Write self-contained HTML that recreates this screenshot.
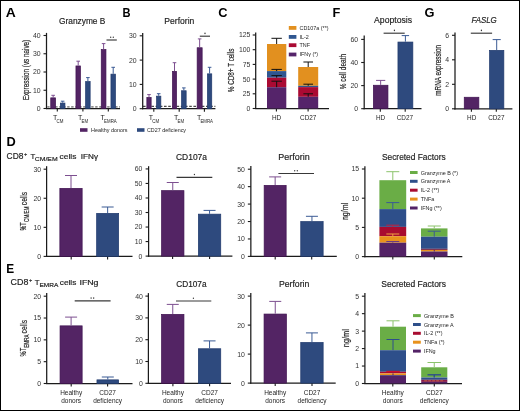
<!DOCTYPE html>
<html><head><meta charset="utf-8"><style>
html,body{margin:0;padding:0;background:#fff;}
svg{display:block;will-change:transform;}
text{font-family:"Liberation Sans", sans-serif;} .s{stroke:#1e1e1e;stroke-width:0.18px;}
</style></head><body>
<svg width="520" height="411" viewBox="0 0 520 411" font-family='"Liberation Sans", sans-serif' fill="#1e1e1e">
<rect x="0.5" y="0.5" width="519" height="410" fill="#fff" stroke="#000" stroke-width="1"/>
<text x="5.80" y="16.80" font-size="12.8" font-weight="bold" fill="#000" textLength="10.04" lengthAdjust="spacingAndGlyphs">A</text>
<text x="122.40" y="16.80" font-size="12.8" font-weight="bold" fill="#000" textLength="8.04" lengthAdjust="spacingAndGlyphs">B</text>
<text x="218.30" y="16.80" font-size="12.8" font-weight="bold" fill="#000">C</text>
<text x="332.50" y="16.80" font-size="12.8" font-weight="bold" fill="#000">F</text>
<text x="424.60" y="16.80" font-size="12.8" font-weight="bold" fill="#000">G</text>
<text x="6.40" y="145.60" font-size="12.8" font-weight="bold" fill="#000">D</text>
<text x="6.20" y="272.90" font-size="12.8" font-weight="bold" fill="#000" textLength="7.90" lengthAdjust="spacingAndGlyphs">E</text>
<text x="82.20" y="23.70" font-size="9.0" text-anchor="middle" textLength="46.30" lengthAdjust="spacingAndGlyphs" class="s">Granzyme B</text>
<line x1="46.50" y1="32.90" x2="46.50" y2="109.10" stroke="#1b1b1b" stroke-width="1.25"/>
<line x1="43.50" y1="108.50" x2="46.50" y2="108.50" stroke="#1b1b1b" stroke-width="1.1"/>
<text x="40.60" y="110.95" font-size="6.9" text-anchor="end" fill="#333">0</text>
<line x1="43.50" y1="90.25" x2="46.50" y2="90.25" stroke="#1b1b1b" stroke-width="1.1"/>
<text x="40.60" y="92.70" font-size="6.9" text-anchor="end" fill="#333">10</text>
<line x1="43.50" y1="72.00" x2="46.50" y2="72.00" stroke="#1b1b1b" stroke-width="1.1"/>
<text x="40.60" y="74.45" font-size="6.9" text-anchor="end" fill="#333">20</text>
<line x1="43.50" y1="53.75" x2="46.50" y2="53.75" stroke="#1b1b1b" stroke-width="1.1"/>
<text x="40.60" y="56.20" font-size="6.9" text-anchor="end" fill="#333">30</text>
<line x1="43.50" y1="35.50" x2="46.50" y2="35.50" stroke="#1b1b1b" stroke-width="1.1"/>
<text x="40.60" y="37.95" font-size="6.9" text-anchor="end" fill="#333">40</text>
<text x="28.80" y="70.05" font-size="9.0" text-anchor="middle" textLength="60.50" lengthAdjust="spacingAndGlyphs" transform="rotate(-90 28.80 70.05)" class="s">Expression (vs naive)</text>
<line x1="47.20" y1="106.90" x2="120.00" y2="106.90" stroke="#8e8e8e" stroke-width="1.9" stroke-dasharray="2.4,1.6"/>
<line x1="45.90" y1="108.50" x2="120.00" y2="108.50" stroke="#1b1b1b" stroke-width="1.25"/>
<line x1="57.30" y1="108.50" x2="57.30" y2="111.50" stroke="#1b1b1b" stroke-width="1.1"/>
<line x1="82.90" y1="108.50" x2="82.90" y2="111.50" stroke="#1b1b1b" stroke-width="1.1"/>
<line x1="108.30" y1="108.50" x2="108.30" y2="111.50" stroke="#1b1b1b" stroke-width="1.1"/>
<rect x="50.75" y="97.85" width="4.80" height="10.65" fill="#532464" stroke="#3f1250" stroke-width="0.7"/>
<line x1="53.15" y1="95.30" x2="53.15" y2="97.50" stroke="#7d4f90" stroke-width="1"/>
<line x1="51.35" y1="95.30" x2="54.95" y2="95.30" stroke="#7d4f90" stroke-width="1"/>
<rect x="60.35" y="103.05" width="4.60" height="5.45" fill="#2e4a7e" stroke="#1e386c" stroke-width="0.7"/>
<line x1="62.65" y1="101.20" x2="62.65" y2="102.70" stroke="#3b5b94" stroke-width="1"/>
<line x1="60.85" y1="101.20" x2="64.45" y2="101.20" stroke="#3b5b94" stroke-width="1"/>
<rect x="75.95" y="65.95" width="4.50" height="42.55" fill="#532464" stroke="#3f1250" stroke-width="0.7"/>
<line x1="78.20" y1="61.20" x2="78.20" y2="65.60" stroke="#7d4f90" stroke-width="1"/>
<line x1="76.40" y1="61.20" x2="80.00" y2="61.20" stroke="#7d4f90" stroke-width="1"/>
<rect x="85.65" y="81.55" width="4.50" height="26.95" fill="#2e4a7e" stroke="#1e386c" stroke-width="0.7"/>
<line x1="87.90" y1="77.60" x2="87.90" y2="81.20" stroke="#3b5b94" stroke-width="1"/>
<line x1="86.10" y1="77.60" x2="89.70" y2="77.60" stroke="#3b5b94" stroke-width="1"/>
<rect x="101.25" y="49.55" width="4.70" height="58.95" fill="#532464" stroke="#3f1250" stroke-width="0.7"/>
<line x1="103.60" y1="43.60" x2="103.60" y2="49.20" stroke="#7d4f90" stroke-width="1"/>
<line x1="101.80" y1="43.60" x2="105.40" y2="43.60" stroke="#7d4f90" stroke-width="1"/>
<rect x="110.95" y="74.15" width="4.50" height="34.35" fill="#2e4a7e" stroke="#1e386c" stroke-width="0.7"/>
<line x1="113.20" y1="67.30" x2="113.20" y2="73.80" stroke="#3b5b94" stroke-width="1"/>
<line x1="111.40" y1="67.30" x2="115.00" y2="67.30" stroke="#3b5b94" stroke-width="1"/>
<line x1="106.50" y1="40.00" x2="116.80" y2="40.00" stroke="#383838" stroke-width="1.15"/>
<ellipse cx="110.70" cy="37.20" rx="0.65" ry="0.8" fill="#333"/>
<ellipse cx="113.30" cy="37.20" rx="0.65" ry="0.8" fill="#333"/>
<text x="53.10" y="120.20" font-size="7.0">T</text>
<text x="56.60" y="122.50" font-size="5.0" textLength="6.90" lengthAdjust="spacingAndGlyphs">CM</text>
<text x="78.00" y="120.20" font-size="7.0">T</text>
<text x="81.50" y="122.50" font-size="5.0" textLength="6.60" lengthAdjust="spacingAndGlyphs">EM</text>
<text x="100.60" y="120.20" font-size="7.0">T</text>
<text x="104.10" y="122.50" font-size="5.0" textLength="12.60" lengthAdjust="spacingAndGlyphs">EMRA</text>
<rect x="80.00" y="128.20" width="7.50" height="3.60" fill="#532464"/>
<text x="91.00" y="131.90" font-size="5.4" textLength="36.50" lengthAdjust="spacingAndGlyphs">Healthy donors</text>
<rect x="137.00" y="128.20" width="7.50" height="3.60" fill="#2e4a7e"/>
<text x="147.00" y="131.90" font-size="5.4" textLength="39.00" lengthAdjust="spacingAndGlyphs">CD27 deficiency</text>
<text x="179.30" y="23.50" font-size="9.0" text-anchor="middle" textLength="30.00" lengthAdjust="spacingAndGlyphs" class="s">Perforin</text>
<line x1="142.70" y1="33.00" x2="142.70" y2="109.30" stroke="#1b1b1b" stroke-width="1.25"/>
<line x1="139.70" y1="108.70" x2="142.70" y2="108.70" stroke="#1b1b1b" stroke-width="1.1"/>
<text x="136.60" y="111.15" font-size="6.9" text-anchor="end" fill="#333">0</text>
<line x1="139.70" y1="84.40" x2="142.70" y2="84.40" stroke="#1b1b1b" stroke-width="1.1"/>
<text x="136.60" y="86.85" font-size="6.9" text-anchor="end" fill="#333">10</text>
<line x1="139.70" y1="60.10" x2="142.70" y2="60.10" stroke="#1b1b1b" stroke-width="1.1"/>
<text x="136.60" y="62.55" font-size="6.9" text-anchor="end" fill="#333">20</text>
<line x1="139.70" y1="35.80" x2="142.70" y2="35.80" stroke="#1b1b1b" stroke-width="1.1"/>
<text x="136.60" y="38.25" font-size="6.9" text-anchor="end" fill="#333">30</text>
<line x1="143.00" y1="106.30" x2="215.40" y2="106.30" stroke="#1b1b1b" stroke-width="1" stroke-dasharray="2.6,1.6"/>
<line x1="142.10" y1="108.70" x2="215.40" y2="108.70" stroke="#1b1b1b" stroke-width="1.25"/>
<line x1="153.80" y1="108.70" x2="153.80" y2="111.70" stroke="#1b1b1b" stroke-width="1.1"/>
<line x1="179.20" y1="108.70" x2="179.20" y2="111.70" stroke="#1b1b1b" stroke-width="1.1"/>
<line x1="204.40" y1="108.70" x2="204.40" y2="111.70" stroke="#1b1b1b" stroke-width="1.1"/>
<rect x="146.85" y="97.45" width="4.30" height="11.25" fill="#532464" stroke="#3f1250" stroke-width="0.7"/>
<line x1="149.00" y1="94.60" x2="149.00" y2="97.10" stroke="#7d4f90" stroke-width="1"/>
<line x1="147.20" y1="94.60" x2="150.80" y2="94.60" stroke="#7d4f90" stroke-width="1"/>
<rect x="156.55" y="96.15" width="4.30" height="12.55" fill="#2e4a7e" stroke="#1e386c" stroke-width="0.7"/>
<line x1="158.70" y1="93.70" x2="158.70" y2="95.80" stroke="#3b5b94" stroke-width="1"/>
<line x1="156.90" y1="93.70" x2="160.50" y2="93.70" stroke="#3b5b94" stroke-width="1"/>
<rect x="172.45" y="71.35" width="4.10" height="37.35" fill="#532464" stroke="#3f1250" stroke-width="0.7"/>
<line x1="174.50" y1="62.70" x2="174.50" y2="71.00" stroke="#7d4f90" stroke-width="1"/>
<line x1="172.70" y1="62.70" x2="176.30" y2="62.70" stroke="#7d4f90" stroke-width="1"/>
<rect x="181.55" y="90.75" width="4.60" height="17.95" fill="#2e4a7e" stroke="#1e386c" stroke-width="0.7"/>
<line x1="183.85" y1="87.90" x2="183.85" y2="90.40" stroke="#3b5b94" stroke-width="1"/>
<line x1="182.05" y1="87.90" x2="185.65" y2="87.90" stroke="#3b5b94" stroke-width="1"/>
<rect x="197.15" y="47.75" width="5.00" height="60.95" fill="#532464" stroke="#3f1250" stroke-width="0.7"/>
<line x1="199.65" y1="38.90" x2="199.65" y2="47.40" stroke="#7d4f90" stroke-width="1"/>
<line x1="197.85" y1="38.90" x2="201.45" y2="38.90" stroke="#7d4f90" stroke-width="1"/>
<rect x="207.45" y="73.85" width="4.30" height="34.85" fill="#2e4a7e" stroke="#1e386c" stroke-width="0.7"/>
<line x1="209.60" y1="67.30" x2="209.60" y2="73.50" stroke="#3b5b94" stroke-width="1"/>
<line x1="207.80" y1="67.30" x2="211.40" y2="67.30" stroke="#3b5b94" stroke-width="1"/>
<line x1="199.80" y1="36.20" x2="210.00" y2="36.20" stroke="#383838" stroke-width="1.15"/>
<ellipse cx="205.00" cy="33.40" rx="0.65" ry="0.8" fill="#333"/>
<text x="148.70" y="120.30" font-size="7.0">T</text>
<text x="152.20" y="122.60" font-size="5.0" textLength="6.90" lengthAdjust="spacingAndGlyphs">CM</text>
<text x="174.00" y="120.30" font-size="7.0">T</text>
<text x="177.50" y="122.60" font-size="5.0" textLength="6.60" lengthAdjust="spacingAndGlyphs">EM</text>
<text x="196.90" y="120.30" font-size="7.0">T</text>
<text x="200.40" y="122.60" font-size="5.0" textLength="12.60" lengthAdjust="spacingAndGlyphs">EMRA</text>
<line x1="255.70" y1="32.40" x2="255.70" y2="109.10" stroke="#1b1b1b" stroke-width="1.25"/>
<line x1="252.70" y1="108.50" x2="255.70" y2="108.50" stroke="#1b1b1b" stroke-width="1.1"/>
<text x="250.40" y="110.95" font-size="6.9" text-anchor="end" fill="#333">0</text>
<line x1="252.70" y1="93.80" x2="255.70" y2="93.80" stroke="#1b1b1b" stroke-width="1.1"/>
<text x="250.40" y="96.25" font-size="6.9" text-anchor="end" fill="#333">25</text>
<line x1="252.70" y1="79.10" x2="255.70" y2="79.10" stroke="#1b1b1b" stroke-width="1.1"/>
<text x="250.40" y="81.55" font-size="6.9" text-anchor="end" fill="#333">50</text>
<line x1="252.70" y1="64.40" x2="255.70" y2="64.40" stroke="#1b1b1b" stroke-width="1.1"/>
<text x="250.40" y="66.85" font-size="6.9" text-anchor="end" fill="#333">75</text>
<line x1="252.70" y1="49.70" x2="255.70" y2="49.70" stroke="#1b1b1b" stroke-width="1.1"/>
<text x="250.40" y="52.15" font-size="6.9" text-anchor="end" fill="#333">100</text>
<line x1="252.70" y1="35.00" x2="255.70" y2="35.00" stroke="#1b1b1b" stroke-width="1.1"/>
<text x="250.40" y="37.45" font-size="6.9" text-anchor="end" fill="#333">125</text>
<text x="234.30" y="70.45" font-size="9.0" text-anchor="middle" textLength="43.60" lengthAdjust="spacingAndGlyphs" transform="rotate(-90 234.30 70.45)" class="s">% CD8+ T cells</text>
<line x1="255.10" y1="108.50" x2="329.00" y2="108.50" stroke="#1b1b1b" stroke-width="1.25"/>
<line x1="276.40" y1="108.50" x2="276.40" y2="111.50" stroke="#1b1b1b" stroke-width="1.1"/>
<line x1="308.10" y1="108.50" x2="308.10" y2="111.50" stroke="#1b1b1b" stroke-width="1.1"/>
<rect x="267.00" y="44.00" width="19.30" height="27.10" fill="#e2901f"/>
<rect x="267.00" y="71.10" width="19.30" height="6.60" fill="#2f5690"/>
<rect x="267.00" y="77.70" width="19.30" height="9.50" fill="#aa0a33"/>
<rect x="267.00" y="87.20" width="19.30" height="21.30" fill="#55246a"/>
<line x1="276.65" y1="38.30" x2="276.65" y2="44.00" stroke="#111" stroke-width="1"/>
<line x1="271.45" y1="38.30" x2="281.85" y2="38.30" stroke="#111" stroke-width="1"/>
<line x1="276.65" y1="69.40" x2="276.65" y2="71.10" stroke="#111" stroke-width="1"/>
<line x1="271.45" y1="69.40" x2="281.85" y2="69.40" stroke="#111" stroke-width="1"/>
<line x1="276.65" y1="75.60" x2="276.65" y2="77.70" stroke="#111" stroke-width="1"/>
<line x1="271.45" y1="75.60" x2="281.85" y2="75.60" stroke="#111" stroke-width="1"/>
<line x1="276.65" y1="81.20" x2="276.65" y2="87.20" stroke="#111" stroke-width="1"/>
<line x1="271.45" y1="81.20" x2="281.85" y2="81.20" stroke="#111" stroke-width="1"/>
<rect x="298.20" y="67.00" width="20.00" height="18.80" fill="#e2901f"/>
<rect x="298.20" y="85.80" width="20.00" height="1.30" fill="#2f5690"/>
<rect x="298.20" y="87.10" width="20.00" height="9.70" fill="#aa0a33"/>
<rect x="298.20" y="96.80" width="20.00" height="11.70" fill="#55246a"/>
<line x1="308.20" y1="62.00" x2="308.20" y2="67.00" stroke="#111" stroke-width="1"/>
<line x1="303.40" y1="62.00" x2="313.00" y2="62.00" stroke="#111" stroke-width="1"/>
<line x1="308.20" y1="84.20" x2="308.20" y2="85.80" stroke="#111" stroke-width="1"/>
<line x1="303.40" y1="84.20" x2="313.00" y2="84.20" stroke="#111" stroke-width="1"/>
<line x1="308.20" y1="93.80" x2="308.20" y2="96.80" stroke="#111" stroke-width="1"/>
<line x1="303.40" y1="93.80" x2="313.00" y2="93.80" stroke="#111" stroke-width="1"/>
<rect x="288.80" y="26.00" width="7.60" height="3.80" fill="#e2901f"/>
<text x="299.50" y="29.80" font-size="5.4">CD107a (**)</text>
<rect x="288.80" y="35.00" width="7.60" height="3.80" fill="#2f5690"/>
<text x="299.50" y="38.80" font-size="5.4">IL-2</text>
<rect x="288.80" y="43.30" width="7.60" height="3.80" fill="#aa0a33"/>
<text x="299.50" y="47.10" font-size="5.4">TNF</text>
<rect x="288.80" y="52.60" width="7.60" height="3.80" fill="#55246a"/>
<text x="299.50" y="56.40" font-size="5.4">IFN&#947; (*)</text>
<text x="276.60" y="120.10" font-size="6.4" text-anchor="middle">HD</text>
<text x="308.20" y="120.10" font-size="6.4" text-anchor="middle">CD27</text>
<text x="393.10" y="23.20" font-size="9.0" text-anchor="middle" textLength="38.00" lengthAdjust="spacingAndGlyphs" class="s">Apoptosis</text>
<line x1="364.20" y1="35.50" x2="364.20" y2="109.30" stroke="#1b1b1b" stroke-width="1.25"/>
<line x1="361.20" y1="108.70" x2="364.20" y2="108.70" stroke="#1b1b1b" stroke-width="1.1"/>
<text x="358.20" y="111.15" font-size="6.9" text-anchor="end" fill="#333">0</text>
<line x1="361.20" y1="85.60" x2="364.20" y2="85.60" stroke="#1b1b1b" stroke-width="1.1"/>
<text x="358.20" y="88.05" font-size="6.9" text-anchor="end" fill="#333">20</text>
<line x1="361.20" y1="62.50" x2="364.20" y2="62.50" stroke="#1b1b1b" stroke-width="1.1"/>
<text x="358.20" y="64.95" font-size="6.9" text-anchor="end" fill="#333">40</text>
<line x1="361.20" y1="39.40" x2="364.20" y2="39.40" stroke="#1b1b1b" stroke-width="1.1"/>
<text x="358.20" y="41.85" font-size="6.9" text-anchor="end" fill="#333">60</text>
<text x="346.00" y="71.65" font-size="9.0" text-anchor="middle" textLength="35.40" lengthAdjust="spacingAndGlyphs" transform="rotate(-90 346.00 71.65)" class="s">% cell death</text>
<line x1="363.60" y1="108.70" x2="421.50" y2="108.70" stroke="#1b1b1b" stroke-width="1.25"/>
<line x1="380.30" y1="108.70" x2="380.30" y2="111.70" stroke="#1b1b1b" stroke-width="1.1"/>
<line x1="405.20" y1="108.70" x2="405.20" y2="111.70" stroke="#1b1b1b" stroke-width="1.1"/>
<rect x="373.35" y="85.25" width="14.60" height="23.45" fill="#532464" stroke="#3f1250" stroke-width="0.7"/>
<line x1="380.65" y1="80.40" x2="380.65" y2="84.90" stroke="#7d4f90" stroke-width="1"/>
<line x1="376.05" y1="80.40" x2="385.25" y2="80.40" stroke="#7d4f90" stroke-width="1"/>
<rect x="397.95" y="42.05" width="14.90" height="66.65" fill="#2e4a7e" stroke="#1e386c" stroke-width="0.7"/>
<line x1="405.40" y1="35.60" x2="405.40" y2="41.70" stroke="#3b5b94" stroke-width="1"/>
<line x1="401.70" y1="35.60" x2="409.10" y2="35.60" stroke="#3b5b94" stroke-width="1"/>
<line x1="383.60" y1="33.20" x2="404.70" y2="33.20" stroke="#383838" stroke-width="1.15"/>
<ellipse cx="394.40" cy="30.40" rx="0.65" ry="0.8" fill="#333"/>
<text x="380.60" y="120.30" font-size="6.4" text-anchor="middle">HD</text>
<text x="404.90" y="120.30" font-size="6.4" text-anchor="middle">CD27</text>
<text x="484.10" y="23.20" font-size="9.0" text-anchor="middle" font-style="italic" textLength="25.40" lengthAdjust="spacingAndGlyphs" class="s">FASLG</text>
<line x1="455.00" y1="32.40" x2="455.00" y2="109.40" stroke="#1b1b1b" stroke-width="1.25"/>
<line x1="452.00" y1="108.80" x2="455.00" y2="108.80" stroke="#1b1b1b" stroke-width="1.1"/>
<text x="449.00" y="111.25" font-size="6.9" text-anchor="end" fill="#333">0</text>
<line x1="452.00" y1="84.30" x2="455.00" y2="84.30" stroke="#1b1b1b" stroke-width="1.1"/>
<text x="449.00" y="86.75" font-size="6.9" text-anchor="end" fill="#333">2</text>
<line x1="452.00" y1="59.80" x2="455.00" y2="59.80" stroke="#1b1b1b" stroke-width="1.1"/>
<text x="449.00" y="62.25" font-size="6.9" text-anchor="end" fill="#333">4</text>
<line x1="452.00" y1="35.30" x2="455.00" y2="35.30" stroke="#1b1b1b" stroke-width="1.1"/>
<text x="449.00" y="37.75" font-size="6.9" text-anchor="end" fill="#333">6</text>
<text x="440.80" y="70.30" font-size="8.6" text-anchor="middle" textLength="50.80" lengthAdjust="spacingAndGlyphs" transform="rotate(-90 440.80 70.30)" class="s">mRNA expression</text>
<line x1="454.40" y1="108.80" x2="512.40" y2="108.80" stroke="#1b1b1b" stroke-width="1.25"/>
<line x1="471.40" y1="108.80" x2="471.40" y2="111.80" stroke="#1b1b1b" stroke-width="1.1"/>
<line x1="496.30" y1="108.80" x2="496.30" y2="111.80" stroke="#1b1b1b" stroke-width="1.1"/>
<rect x="464.25" y="97.25" width="14.60" height="11.55" fill="#532464" stroke="#3f1250" stroke-width="0.7"/>
<rect x="489.55" y="50.35" width="14.30" height="58.45" fill="#2e4a7e" stroke="#1e386c" stroke-width="0.7"/>
<line x1="496.70" y1="39.60" x2="496.70" y2="50.00" stroke="#3b5b94" stroke-width="1"/>
<line x1="492.65" y1="39.60" x2="500.75" y2="39.60" stroke="#3b5b94" stroke-width="1"/>
<line x1="470.80" y1="33.20" x2="492.10" y2="33.20" stroke="#383838" stroke-width="1.15"/>
<ellipse cx="481.40" cy="30.40" rx="0.65" ry="0.8" fill="#333"/>
<text x="471.70" y="120.30" font-size="6.4" text-anchor="middle">HD</text>
<text x="496.30" y="120.30" font-size="6.4" text-anchor="middle">CD27</text>
<text x="6.60" y="158.90" font-size="8.2" textLength="16.80" lengthAdjust="spacingAndGlyphs" class="s">CD8</text>
<text x="23.90" y="155.60" font-size="5.6" class="s">+</text>
<text x="30.60" y="158.90" font-size="7.8" class="s">T</text>
<text x="34.80" y="160.80" font-size="6.0" textLength="22.80" lengthAdjust="spacingAndGlyphs" class="s">CM/EM</text>
<text x="59.60" y="158.90" font-size="7.4" textLength="16.80" lengthAdjust="spacingAndGlyphs" class="s">cells</text>
<text x="80.80" y="158.90" font-size="6.8" textLength="17.20" lengthAdjust="spacingAndGlyphs" class="s">IFN&#947;</text>
<line x1="46.60" y1="166.20" x2="46.60" y2="257.00" stroke="#1b1b1b" stroke-width="1.25"/>
<line x1="43.60" y1="256.40" x2="46.60" y2="256.40" stroke="#1b1b1b" stroke-width="1.1"/>
<text x="41.10" y="258.85" font-size="6.9" text-anchor="end" fill="#333">0</text>
<line x1="43.60" y1="227.33" x2="46.60" y2="227.33" stroke="#1b1b1b" stroke-width="1.1"/>
<text x="41.10" y="229.78" font-size="6.9" text-anchor="end" fill="#333">10</text>
<line x1="43.60" y1="198.26" x2="46.60" y2="198.26" stroke="#1b1b1b" stroke-width="1.1"/>
<text x="41.10" y="200.71" font-size="6.9" text-anchor="end" fill="#333">20</text>
<line x1="43.60" y1="169.19" x2="46.60" y2="169.19" stroke="#1b1b1b" stroke-width="1.1"/>
<text x="41.10" y="171.64" font-size="6.9" text-anchor="end" fill="#333">30</text>
<text class="s" transform="translate(26.30 230.40) rotate(-90)" font-size="8.6" textLength="8.00" lengthAdjust="spacingAndGlyphs">%T</text>
<text class="s" transform="translate(28.70 221.90) rotate(-90)" font-size="6.3" textLength="15.40" lengthAdjust="spacingAndGlyphs">CM/EM</text>
<text class="s" transform="translate(27.00 205.20) rotate(-90)" font-size="8.6" textLength="13.40" lengthAdjust="spacingAndGlyphs">cells</text>
<line x1="46.00" y1="256.40" x2="132.50" y2="256.40" stroke="#1b1b1b" stroke-width="1.25"/>
<line x1="71.20" y1="256.40" x2="71.20" y2="259.40" stroke="#1b1b1b" stroke-width="1.1"/>
<line x1="107.60" y1="256.40" x2="107.60" y2="259.40" stroke="#1b1b1b" stroke-width="1.1"/>
<rect x="59.85" y="188.35" width="22.30" height="68.05" fill="#532464" stroke="#3f1250" stroke-width="0.7"/>
<line x1="71.00" y1="175.50" x2="71.00" y2="188.00" stroke="#7d4f90" stroke-width="1"/>
<line x1="65.00" y1="175.50" x2="77.00" y2="175.50" stroke="#7d4f90" stroke-width="1"/>
<rect x="96.65" y="213.35" width="22.00" height="43.05" fill="#2e4a7e" stroke="#1e386c" stroke-width="0.7"/>
<line x1="107.65" y1="207.00" x2="107.65" y2="213.00" stroke="#3b5b94" stroke-width="1"/>
<line x1="101.65" y1="207.00" x2="113.65" y2="207.00" stroke="#3b5b94" stroke-width="1"/>
<text x="191.50" y="160.40" font-size="9.0" text-anchor="middle" textLength="31.00" lengthAdjust="spacingAndGlyphs" class="s">CD107a</text>
<line x1="148.60" y1="166.20" x2="148.60" y2="256.70" stroke="#1b1b1b" stroke-width="1.25"/>
<line x1="145.60" y1="256.10" x2="148.60" y2="256.10" stroke="#1b1b1b" stroke-width="1.1"/>
<text x="142.40" y="258.55" font-size="6.9" text-anchor="end" fill="#333">0</text>
<line x1="145.60" y1="241.57" x2="148.60" y2="241.57" stroke="#1b1b1b" stroke-width="1.1"/>
<text x="142.40" y="244.02" font-size="6.9" text-anchor="end" fill="#333">10</text>
<line x1="145.60" y1="227.04" x2="148.60" y2="227.04" stroke="#1b1b1b" stroke-width="1.1"/>
<text x="142.40" y="229.49" font-size="6.9" text-anchor="end" fill="#333">20</text>
<line x1="145.60" y1="212.51" x2="148.60" y2="212.51" stroke="#1b1b1b" stroke-width="1.1"/>
<text x="142.40" y="214.96" font-size="6.9" text-anchor="end" fill="#333">30</text>
<line x1="145.60" y1="197.98" x2="148.60" y2="197.98" stroke="#1b1b1b" stroke-width="1.1"/>
<text x="142.40" y="200.43" font-size="6.9" text-anchor="end" fill="#333">40</text>
<line x1="145.60" y1="183.45" x2="148.60" y2="183.45" stroke="#1b1b1b" stroke-width="1.1"/>
<text x="142.40" y="185.90" font-size="6.9" text-anchor="end" fill="#333">50</text>
<line x1="145.60" y1="168.92" x2="148.60" y2="168.92" stroke="#1b1b1b" stroke-width="1.1"/>
<text x="142.40" y="171.37" font-size="6.9" text-anchor="end" fill="#333">60</text>
<line x1="147.90" y1="256.10" x2="232.40" y2="256.10" stroke="#1b1b1b" stroke-width="1.25"/>
<line x1="172.60" y1="256.10" x2="172.60" y2="259.10" stroke="#1b1b1b" stroke-width="1.1"/>
<line x1="209.60" y1="256.10" x2="209.60" y2="259.10" stroke="#1b1b1b" stroke-width="1.1"/>
<rect x="161.55" y="190.65" width="22.40" height="65.45" fill="#532464" stroke="#3f1250" stroke-width="0.7"/>
<line x1="172.75" y1="182.50" x2="172.75" y2="190.30" stroke="#7d4f90" stroke-width="1"/>
<line x1="166.75" y1="182.50" x2="178.75" y2="182.50" stroke="#7d4f90" stroke-width="1"/>
<rect x="198.35" y="214.15" width="22.40" height="41.95" fill="#2e4a7e" stroke="#1e386c" stroke-width="0.7"/>
<line x1="209.55" y1="210.40" x2="209.55" y2="213.80" stroke="#3b5b94" stroke-width="1"/>
<line x1="203.55" y1="210.40" x2="215.55" y2="210.40" stroke="#3b5b94" stroke-width="1"/>
<line x1="176.50" y1="177.30" x2="212.30" y2="177.30" stroke="#383838" stroke-width="1.15"/>
<ellipse cx="194.40" cy="174.50" rx="0.65" ry="0.8" fill="#333"/>
<text x="294.00" y="160.40" font-size="9.0" text-anchor="middle" textLength="31.30" lengthAdjust="spacingAndGlyphs" class="s">Perforin</text>
<line x1="250.85" y1="166.00" x2="250.85" y2="257.00" stroke="#1b1b1b" stroke-width="1.25"/>
<line x1="247.85" y1="256.40" x2="250.85" y2="256.40" stroke="#1b1b1b" stroke-width="1.1"/>
<text x="244.90" y="258.85" font-size="6.9" text-anchor="end" fill="#333">0</text>
<line x1="247.85" y1="238.96" x2="250.85" y2="238.96" stroke="#1b1b1b" stroke-width="1.1"/>
<text x="244.90" y="241.41" font-size="6.9" text-anchor="end" fill="#333">10</text>
<line x1="247.85" y1="221.52" x2="250.85" y2="221.52" stroke="#1b1b1b" stroke-width="1.1"/>
<text x="244.90" y="223.97" font-size="6.9" text-anchor="end" fill="#333">20</text>
<line x1="247.85" y1="204.08" x2="250.85" y2="204.08" stroke="#1b1b1b" stroke-width="1.1"/>
<text x="244.90" y="206.53" font-size="6.9" text-anchor="end" fill="#333">30</text>
<line x1="247.85" y1="186.64" x2="250.85" y2="186.64" stroke="#1b1b1b" stroke-width="1.1"/>
<text x="244.90" y="189.09" font-size="6.9" text-anchor="end" fill="#333">40</text>
<line x1="247.85" y1="169.20" x2="250.85" y2="169.20" stroke="#1b1b1b" stroke-width="1.1"/>
<text x="244.90" y="171.65" font-size="6.9" text-anchor="end" fill="#333">50</text>
<line x1="250.25" y1="256.40" x2="336.80" y2="256.40" stroke="#1b1b1b" stroke-width="1.25"/>
<line x1="275.20" y1="256.40" x2="275.20" y2="259.40" stroke="#1b1b1b" stroke-width="1.1"/>
<line x1="311.70" y1="256.40" x2="311.70" y2="259.40" stroke="#1b1b1b" stroke-width="1.1"/>
<rect x="264.15" y="185.35" width="22.00" height="71.05" fill="#532464" stroke="#3f1250" stroke-width="0.7"/>
<line x1="275.15" y1="176.90" x2="275.15" y2="185.00" stroke="#7d4f90" stroke-width="1"/>
<line x1="269.15" y1="176.90" x2="281.15" y2="176.90" stroke="#7d4f90" stroke-width="1"/>
<rect x="300.75" y="221.55" width="22.40" height="34.85" fill="#2e4a7e" stroke="#1e386c" stroke-width="0.7"/>
<line x1="311.95" y1="216.30" x2="311.95" y2="221.20" stroke="#3b5b94" stroke-width="1"/>
<line x1="305.95" y1="216.30" x2="317.95" y2="216.30" stroke="#3b5b94" stroke-width="1"/>
<line x1="278.40" y1="173.50" x2="314.00" y2="173.50" stroke="#383838" stroke-width="1.15"/>
<ellipse cx="294.70" cy="170.70" rx="0.65" ry="0.8" fill="#333"/>
<ellipse cx="297.30" cy="170.70" rx="0.65" ry="0.8" fill="#333"/>
<text x="413.80" y="160.40" font-size="9.0" text-anchor="middle" textLength="63.70" lengthAdjust="spacingAndGlyphs" class="s">Secreted Factors</text>
<line x1="364.90" y1="166.20" x2="364.90" y2="257.20" stroke="#1b1b1b" stroke-width="1.25"/>
<line x1="361.90" y1="256.60" x2="364.90" y2="256.60" stroke="#1b1b1b" stroke-width="1.1"/>
<text x="359.20" y="259.05" font-size="6.9" text-anchor="end" fill="#333">0</text>
<line x1="361.90" y1="227.40" x2="364.90" y2="227.40" stroke="#1b1b1b" stroke-width="1.1"/>
<text x="359.20" y="229.85" font-size="6.9" text-anchor="end" fill="#333">5</text>
<line x1="361.90" y1="198.20" x2="364.90" y2="198.20" stroke="#1b1b1b" stroke-width="1.1"/>
<text x="359.20" y="200.65" font-size="6.9" text-anchor="end" fill="#333">10</text>
<line x1="361.90" y1="169.00" x2="364.90" y2="169.00" stroke="#1b1b1b" stroke-width="1.1"/>
<text x="359.20" y="171.45" font-size="6.9" text-anchor="end" fill="#333">15</text>
<text x="347.90" y="211.40" font-size="8.4" text-anchor="middle" textLength="17.40" lengthAdjust="spacingAndGlyphs" transform="rotate(-90 347.90 211.40)" class="s">ng/ml</text>
<line x1="364.30" y1="256.60" x2="462.30" y2="256.60" stroke="#1b1b1b" stroke-width="1.25"/>
<line x1="392.80" y1="256.60" x2="392.80" y2="259.60" stroke="#1b1b1b" stroke-width="1.1"/>
<line x1="434.30" y1="256.60" x2="434.30" y2="259.60" stroke="#1b1b1b" stroke-width="1.1"/>
<rect x="379.40" y="180.20" width="26.80" height="28.90" fill="#6aad46"/>
<rect x="379.40" y="209.10" width="26.80" height="17.80" fill="#2e4f8a"/>
<rect x="379.40" y="226.90" width="26.80" height="9.30" fill="#a80c30"/>
<rect x="379.40" y="236.20" width="26.80" height="6.50" fill="#e8921c"/>
<rect x="379.40" y="242.70" width="26.80" height="13.90" fill="#532266"/>
<line x1="392.80" y1="171.70" x2="392.80" y2="180.20" stroke="#8cc36c" stroke-width="1"/>
<line x1="386.30" y1="171.70" x2="399.30" y2="171.70" stroke="#8cc36c" stroke-width="1"/>
<line x1="392.80" y1="202.60" x2="392.80" y2="209.10" stroke="#3b5b94" stroke-width="1"/>
<line x1="386.30" y1="202.60" x2="399.30" y2="202.60" stroke="#3b5b94" stroke-width="1"/>
<line x1="392.80" y1="225.20" x2="392.80" y2="226.90" stroke="#c0223f" stroke-width="1"/>
<line x1="386.30" y1="225.20" x2="399.30" y2="225.20" stroke="#c0223f" stroke-width="1"/>
<line x1="392.80" y1="234.00" x2="392.80" y2="236.20" stroke="#f0a040" stroke-width="1"/>
<line x1="386.30" y1="234.00" x2="399.30" y2="234.00" stroke="#f0a040" stroke-width="1"/>
<line x1="392.80" y1="241.50" x2="392.80" y2="242.70" stroke="#6a3a80" stroke-width="1"/>
<line x1="386.30" y1="241.50" x2="399.30" y2="241.50" stroke="#6a3a80" stroke-width="1"/>
<rect x="421.00" y="228.40" width="26.50" height="8.30" fill="#6aad46"/>
<rect x="421.00" y="236.70" width="26.50" height="12.10" fill="#2e4f8a"/>
<rect x="421.00" y="248.80" width="26.50" height="1.10" fill="#6a1648"/>
<rect x="421.00" y="249.90" width="26.50" height="1.60" fill="#e8921c"/>
<rect x="421.00" y="251.50" width="26.50" height="5.10" fill="#532266"/>
<line x1="434.25" y1="249.90" x2="434.25" y2="251.50" stroke="#532266" stroke-width="1.0"/>
<line x1="434.25" y1="226.00" x2="434.25" y2="228.40" stroke="#8cc36c" stroke-width="1"/>
<line x1="427.75" y1="226.00" x2="440.75" y2="226.00" stroke="#8cc36c" stroke-width="1"/>
<line x1="434.25" y1="231.20" x2="434.25" y2="236.70" stroke="#3b5b94" stroke-width="1"/>
<line x1="427.75" y1="231.20" x2="440.75" y2="231.20" stroke="#3b5b94" stroke-width="1"/>
<rect x="410.00" y="171.00" width="7.60" height="3.00" fill="#6aad46"/>
<text x="420.80" y="174.50" font-size="5.4">Granzyme B (*)</text>
<rect x="410.00" y="179.80" width="7.60" height="3.00" fill="#2e4f8a"/>
<text x="420.80" y="183.30" font-size="5.4">Granzyme A</text>
<rect x="410.00" y="188.70" width="7.60" height="3.00" fill="#a80c30"/>
<text x="420.80" y="192.20" font-size="5.4">IL-2 (**)</text>
<rect x="410.00" y="197.60" width="7.60" height="3.00" fill="#e8921c"/>
<text x="420.80" y="201.10" font-size="5.4">TNFa</text>
<rect x="410.00" y="206.50" width="7.60" height="3.00" fill="#532266"/>
<text x="420.80" y="210.00" font-size="5.4">IFNg (**)</text>
<text x="10.60" y="285.40" font-size="8.2" textLength="17.80" lengthAdjust="spacingAndGlyphs" class="s">CD8</text>
<text x="28.90" y="282.10" font-size="5.6" class="s">+</text>
<text x="34.70" y="285.40" font-size="7.8" class="s">T</text>
<text x="39.50" y="287.30" font-size="6.0" textLength="18.90" lengthAdjust="spacingAndGlyphs" class="s">EMRA</text>
<text x="59.80" y="285.40" font-size="7.4" textLength="16.50" lengthAdjust="spacingAndGlyphs" class="s">cells</text>
<text x="79.50" y="285.40" font-size="6.8" textLength="19.00" lengthAdjust="spacingAndGlyphs" class="s">IFNg</text>
<line x1="46.70" y1="293.10" x2="46.70" y2="384.10" stroke="#1b1b1b" stroke-width="1.25"/>
<line x1="43.70" y1="383.50" x2="46.70" y2="383.50" stroke="#1b1b1b" stroke-width="1.1"/>
<text x="41.10" y="385.95" font-size="6.9" text-anchor="end" fill="#333">0</text>
<line x1="43.70" y1="361.68" x2="46.70" y2="361.68" stroke="#1b1b1b" stroke-width="1.1"/>
<text x="41.10" y="364.12" font-size="6.9" text-anchor="end" fill="#333">5</text>
<line x1="43.70" y1="339.85" x2="46.70" y2="339.85" stroke="#1b1b1b" stroke-width="1.1"/>
<text x="41.10" y="342.30" font-size="6.9" text-anchor="end" fill="#333">10</text>
<line x1="43.70" y1="318.02" x2="46.70" y2="318.02" stroke="#1b1b1b" stroke-width="1.1"/>
<text x="41.10" y="320.47" font-size="6.9" text-anchor="end" fill="#333">15</text>
<line x1="43.70" y1="296.20" x2="46.70" y2="296.20" stroke="#1b1b1b" stroke-width="1.1"/>
<text x="41.10" y="298.65" font-size="6.9" text-anchor="end" fill="#333">20</text>
<text class="s" transform="translate(26.30 356.40) rotate(-90)" font-size="8.6" textLength="8.60" lengthAdjust="spacingAndGlyphs">%T</text>
<text class="s" transform="translate(28.70 347.60) rotate(-90)" font-size="6.3" textLength="13.00" lengthAdjust="spacingAndGlyphs">EMRA</text>
<text class="s" transform="translate(27.00 333.40) rotate(-90)" font-size="8.6" textLength="13.40" lengthAdjust="spacingAndGlyphs">cells</text>
<line x1="46.10" y1="383.50" x2="132.50" y2="383.50" stroke="#1b1b1b" stroke-width="1.25"/>
<line x1="71.20" y1="383.50" x2="71.20" y2="386.50" stroke="#1b1b1b" stroke-width="1.1"/>
<line x1="107.60" y1="383.50" x2="107.60" y2="386.50" stroke="#1b1b1b" stroke-width="1.1"/>
<rect x="60.05" y="325.85" width="22.10" height="57.65" fill="#532464" stroke="#3f1250" stroke-width="0.7"/>
<line x1="71.10" y1="317.10" x2="71.10" y2="325.50" stroke="#7d4f90" stroke-width="1"/>
<line x1="65.10" y1="317.10" x2="77.10" y2="317.10" stroke="#7d4f90" stroke-width="1"/>
<rect x="96.95" y="379.85" width="21.70" height="3.65" fill="#2e4a7e" stroke="#1e386c" stroke-width="0.7"/>
<line x1="107.80" y1="377.00" x2="107.80" y2="379.50" stroke="#3b5b94" stroke-width="1"/>
<line x1="101.80" y1="377.00" x2="113.80" y2="377.00" stroke="#3b5b94" stroke-width="1"/>
<line x1="74.70" y1="300.90" x2="110.60" y2="300.90" stroke="#383838" stroke-width="1.15"/>
<ellipse cx="91.10" cy="298.10" rx="0.65" ry="0.8" fill="#333"/>
<ellipse cx="93.70" cy="298.10" rx="0.65" ry="0.8" fill="#333"/>
<text x="71.20" y="395.10" font-size="6.5" text-anchor="middle">Healthy</text>
<text x="71.20" y="402.50" font-size="6.5" text-anchor="middle">donors</text>
<text x="107.60" y="395.10" font-size="6.5" text-anchor="middle">CD27</text>
<text x="107.60" y="402.50" font-size="6.5" text-anchor="middle">deficiency</text>
<text x="191.40" y="287.20" font-size="9.0" text-anchor="middle" textLength="30.40" lengthAdjust="spacingAndGlyphs" class="s">CD107a</text>
<line x1="148.40" y1="293.10" x2="148.40" y2="383.90" stroke="#1b1b1b" stroke-width="1.25"/>
<line x1="145.40" y1="383.30" x2="148.40" y2="383.30" stroke="#1b1b1b" stroke-width="1.1"/>
<text x="142.80" y="385.75" font-size="6.9" text-anchor="end" fill="#333">0</text>
<line x1="145.40" y1="361.50" x2="148.40" y2="361.50" stroke="#1b1b1b" stroke-width="1.1"/>
<text x="142.80" y="363.95" font-size="6.9" text-anchor="end" fill="#333">10</text>
<line x1="145.40" y1="339.70" x2="148.40" y2="339.70" stroke="#1b1b1b" stroke-width="1.1"/>
<text x="142.80" y="342.15" font-size="6.9" text-anchor="end" fill="#333">20</text>
<line x1="145.40" y1="317.90" x2="148.40" y2="317.90" stroke="#1b1b1b" stroke-width="1.1"/>
<text x="142.80" y="320.35" font-size="6.9" text-anchor="end" fill="#333">30</text>
<line x1="145.40" y1="296.10" x2="148.40" y2="296.10" stroke="#1b1b1b" stroke-width="1.1"/>
<text x="142.80" y="298.55" font-size="6.9" text-anchor="end" fill="#333">40</text>
<line x1="147.80" y1="383.30" x2="231.00" y2="383.30" stroke="#1b1b1b" stroke-width="1.25"/>
<line x1="172.90" y1="383.30" x2="172.90" y2="386.30" stroke="#1b1b1b" stroke-width="1.1"/>
<line x1="209.60" y1="383.30" x2="209.60" y2="386.30" stroke="#1b1b1b" stroke-width="1.1"/>
<rect x="161.55" y="314.35" width="22.40" height="68.95" fill="#532464" stroke="#3f1250" stroke-width="0.7"/>
<line x1="172.75" y1="304.40" x2="172.75" y2="314.00" stroke="#7d4f90" stroke-width="1"/>
<line x1="166.75" y1="304.40" x2="178.75" y2="304.40" stroke="#7d4f90" stroke-width="1"/>
<rect x="198.35" y="348.75" width="22.40" height="34.55" fill="#2e4a7e" stroke="#1e386c" stroke-width="0.7"/>
<line x1="209.55" y1="340.90" x2="209.55" y2="348.40" stroke="#3b5b94" stroke-width="1"/>
<line x1="203.55" y1="340.90" x2="215.55" y2="340.90" stroke="#3b5b94" stroke-width="1"/>
<line x1="176.00" y1="301.00" x2="211.30" y2="301.00" stroke="#383838" stroke-width="1.15"/>
<ellipse cx="193.40" cy="298.20" rx="0.65" ry="0.8" fill="#333"/>
<text x="172.90" y="395.10" font-size="6.5" text-anchor="middle">Healthy</text>
<text x="172.90" y="402.50" font-size="6.5" text-anchor="middle">donors</text>
<text x="209.60" y="395.10" font-size="6.5" text-anchor="middle">CD27</text>
<text x="209.60" y="402.50" font-size="6.5" text-anchor="middle">deficiency</text>
<text x="294.10" y="287.20" font-size="9.0" text-anchor="middle" textLength="30.40" lengthAdjust="spacingAndGlyphs" class="s">Perforin</text>
<line x1="250.80" y1="293.10" x2="250.80" y2="383.70" stroke="#1b1b1b" stroke-width="1.25"/>
<line x1="247.80" y1="383.10" x2="250.80" y2="383.10" stroke="#1b1b1b" stroke-width="1.1"/>
<text x="244.80" y="385.55" font-size="6.9" text-anchor="end" fill="#333">0</text>
<line x1="247.80" y1="354.10" x2="250.80" y2="354.10" stroke="#1b1b1b" stroke-width="1.1"/>
<text x="244.80" y="356.55" font-size="6.9" text-anchor="end" fill="#333">10</text>
<line x1="247.80" y1="325.10" x2="250.80" y2="325.10" stroke="#1b1b1b" stroke-width="1.1"/>
<text x="244.80" y="327.55" font-size="6.9" text-anchor="end" fill="#333">20</text>
<line x1="247.80" y1="296.10" x2="250.80" y2="296.10" stroke="#1b1b1b" stroke-width="1.1"/>
<text x="244.80" y="298.55" font-size="6.9" text-anchor="end" fill="#333">30</text>
<line x1="250.20" y1="383.10" x2="335.70" y2="383.10" stroke="#1b1b1b" stroke-width="1.25"/>
<line x1="275.20" y1="383.10" x2="275.20" y2="386.10" stroke="#1b1b1b" stroke-width="1.1"/>
<line x1="312.00" y1="383.10" x2="312.00" y2="386.10" stroke="#1b1b1b" stroke-width="1.1"/>
<rect x="264.05" y="314.05" width="22.40" height="69.05" fill="#532464" stroke="#3f1250" stroke-width="0.7"/>
<line x1="275.25" y1="301.40" x2="275.25" y2="313.70" stroke="#7d4f90" stroke-width="1"/>
<line x1="269.25" y1="301.40" x2="281.25" y2="301.40" stroke="#7d4f90" stroke-width="1"/>
<rect x="300.75" y="342.45" width="22.40" height="40.65" fill="#2e4a7e" stroke="#1e386c" stroke-width="0.7"/>
<line x1="311.95" y1="332.90" x2="311.95" y2="342.10" stroke="#3b5b94" stroke-width="1"/>
<line x1="305.95" y1="332.90" x2="317.95" y2="332.90" stroke="#3b5b94" stroke-width="1"/>
<text x="275.20" y="395.10" font-size="6.5" text-anchor="middle">Healthy</text>
<text x="275.20" y="402.50" font-size="6.5" text-anchor="middle">donors</text>
<text x="312.00" y="395.10" font-size="6.5" text-anchor="middle">CD27</text>
<text x="312.00" y="402.50" font-size="6.5" text-anchor="middle">deficiency</text>
<text x="413.60" y="286.70" font-size="9.0" text-anchor="middle" textLength="64.70" lengthAdjust="spacingAndGlyphs" class="s">Secreted Factors</text>
<line x1="364.90" y1="293.10" x2="364.90" y2="384.10" stroke="#1b1b1b" stroke-width="1.25"/>
<line x1="361.90" y1="383.50" x2="364.90" y2="383.50" stroke="#1b1b1b" stroke-width="1.1"/>
<text x="359.10" y="385.95" font-size="6.9" text-anchor="end" fill="#333">0</text>
<line x1="361.90" y1="366.04" x2="364.90" y2="366.04" stroke="#1b1b1b" stroke-width="1.1"/>
<text x="359.10" y="368.49" font-size="6.9" text-anchor="end" fill="#333">1</text>
<line x1="361.90" y1="348.58" x2="364.90" y2="348.58" stroke="#1b1b1b" stroke-width="1.1"/>
<text x="359.10" y="351.03" font-size="6.9" text-anchor="end" fill="#333">2</text>
<line x1="361.90" y1="331.12" x2="364.90" y2="331.12" stroke="#1b1b1b" stroke-width="1.1"/>
<text x="359.10" y="333.57" font-size="6.9" text-anchor="end" fill="#333">3</text>
<line x1="361.90" y1="313.66" x2="364.90" y2="313.66" stroke="#1b1b1b" stroke-width="1.1"/>
<text x="359.10" y="316.11" font-size="6.9" text-anchor="end" fill="#333">4</text>
<line x1="361.90" y1="296.20" x2="364.90" y2="296.20" stroke="#1b1b1b" stroke-width="1.1"/>
<text x="359.10" y="298.65" font-size="6.9" text-anchor="end" fill="#333">5</text>
<text x="349.30" y="338.20" font-size="8.4" text-anchor="middle" textLength="18.00" lengthAdjust="spacingAndGlyphs" transform="rotate(-90 349.30 338.20)" class="s">ng/ml</text>
<line x1="364.30" y1="383.50" x2="462.00" y2="383.50" stroke="#1b1b1b" stroke-width="1.25"/>
<line x1="392.80" y1="383.50" x2="392.80" y2="386.50" stroke="#1b1b1b" stroke-width="1.1"/>
<line x1="434.30" y1="383.50" x2="434.30" y2="386.50" stroke="#1b1b1b" stroke-width="1.1"/>
<rect x="380.00" y="326.70" width="26.00" height="23.50" fill="#6aad46"/>
<rect x="380.00" y="350.20" width="26.00" height="21.60" fill="#2e4f8a"/>
<rect x="380.00" y="371.80" width="26.00" height="1.60" fill="#a80c30"/>
<rect x="380.00" y="373.40" width="26.00" height="1.80" fill="#e8921c"/>
<rect x="380.00" y="375.20" width="26.00" height="0.80" fill="#3a2a70"/>
<rect x="380.00" y="376.00" width="26.00" height="7.50" fill="#532266"/>
<line x1="393.00" y1="373.40" x2="393.00" y2="375.20" stroke="#532266" stroke-width="1.0"/>
<line x1="393.00" y1="320.80" x2="393.00" y2="326.70" stroke="#8cc36c" stroke-width="1"/>
<line x1="386.50" y1="320.80" x2="399.50" y2="320.80" stroke="#8cc36c" stroke-width="1"/>
<line x1="393.00" y1="339.50" x2="393.00" y2="350.20" stroke="#2e4f8a" stroke-width="1"/>
<line x1="386.50" y1="339.50" x2="399.50" y2="339.50" stroke="#2e4f8a" stroke-width="1"/>
<line x1="386.20" y1="371.40" x2="399.80" y2="371.40" stroke="#c8102f" stroke-width="1.2"/>
<rect x="421.20" y="367.30" width="26.10" height="10.20" fill="#6aad46"/>
<rect x="421.20" y="377.50" width="26.10" height="2.30" fill="#2e4f8a"/>
<rect x="421.20" y="379.80" width="26.10" height="2.10" fill="#8a1a4a"/>
<rect x="421.20" y="381.90" width="26.10" height="1.60" fill="#532266"/>
<line x1="424.20" y1="380.80" x2="444.30" y2="380.80" stroke="#d07040" stroke-width="0.8" stroke-dasharray="3,1"/>
<line x1="434.25" y1="362.50" x2="434.25" y2="367.30" stroke="#8cc36c" stroke-width="1"/>
<line x1="427.50" y1="362.50" x2="441.00" y2="362.50" stroke="#8cc36c" stroke-width="1"/>
<line x1="434.25" y1="374.80" x2="434.25" y2="377.50" stroke="#2e4f8a" stroke-width="1.4"/>
<line x1="427.50" y1="374.80" x2="441.00" y2="374.80" stroke="#2e4f8a" stroke-width="1.4"/>
<rect x="413.00" y="314.10" width="7.80" height="3.00" fill="#6aad46"/>
<text x="423.90" y="317.60" font-size="5.4">Granzyme B</text>
<rect x="413.00" y="323.00" width="7.80" height="3.00" fill="#2e4f8a"/>
<text x="423.90" y="326.50" font-size="5.4">Granzyme A</text>
<rect x="413.00" y="331.80" width="7.80" height="3.00" fill="#a80c30"/>
<text x="423.90" y="335.30" font-size="5.4">IL-2 (**)</text>
<rect x="413.00" y="340.70" width="7.80" height="3.00" fill="#e8921c"/>
<text x="423.90" y="344.20" font-size="5.4">TNFa (*)</text>
<rect x="413.00" y="349.60" width="7.80" height="3.00" fill="#532266"/>
<text x="423.90" y="353.10" font-size="5.4">IFNg</text>
<text x="392.80" y="395.10" font-size="6.5" text-anchor="middle">Healthy</text>
<text x="392.80" y="402.50" font-size="6.5" text-anchor="middle">donors</text>
<text x="434.30" y="395.10" font-size="6.5" text-anchor="middle">CD27</text>
<text x="434.30" y="402.50" font-size="6.5" text-anchor="middle">deficiency</text>
</svg>
</body></html>
